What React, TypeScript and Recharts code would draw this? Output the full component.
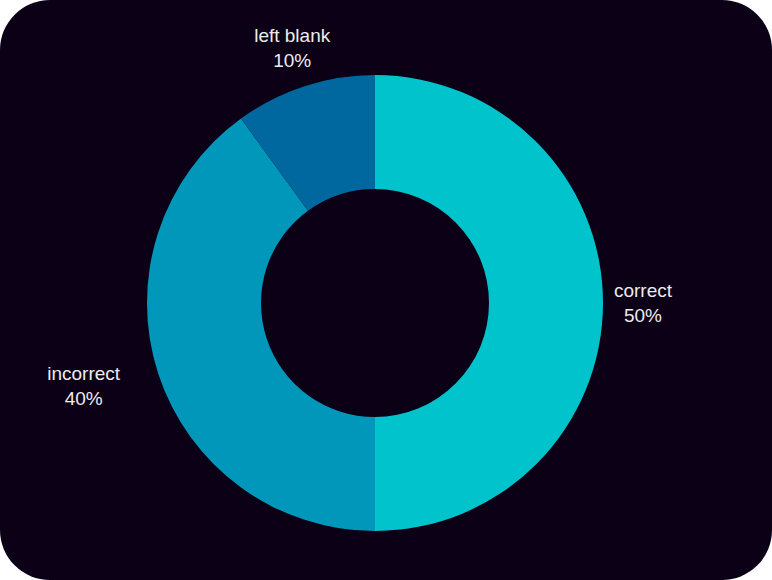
import { PieChart, Pie, Cell } from "recharts";

const categories = ["correct", "incorrect", "left blank"];
const values = [50, 40, 10];
const colors = ["#00c3cc", "#0097bb", "#00679f"];

const data = categories.map((name, i) => ({ name, value: values[i] }));

const RAD = Math.PI / 180;
const FONT = "19px 'Liberation Sans', Arial, sans-serif";

let ctx: CanvasRenderingContext2D | null = null;
function textWidth(s: string) {
  if (!ctx) ctx = document.createElement("canvas").getContext("2d");
  if (!ctx) return s.length * 9;
  ctx.font = FONT;
  return ctx.measureText(s).width;
}

// two-line label (name + percent) placed outside the ring, lines centred in the block
function renderLabel(props: any) {
  const { cx, cy, midAngle, outerRadius, name, percent } = props;
  const r = outerRadius + 40;
  const cos = Math.cos(-midAngle * RAD);
  const pct = `${Math.round(percent * 100)}%`;
  let x = cx + r * cos;
  const y = cy + r * Math.sin(-midAngle * RAD);
  if (cos < -0.5) {
    const w = Math.max(textWidth(name), textWidth(pct));
    x -= w / 2;
  }
  return (
    <text
      x={x}
      y={y}
      textAnchor="middle"
      fill="#ececec"
      fontSize={19}
      fontFamily="'Liberation Sans', Arial, sans-serif"
    >
      <tspan x={x} dy={-6}>{name}</tspan>
      <tspan x={x} dy={25}>{pct}</tspan>
    </text>
  );
}

export default function App() {
  return (
    <div
      style={{
        position: "fixed",
        left: 0,
        top: 0,
        width: 772,
        height: 580,
        background: "#0b0016",
        borderRadius: 50,
        overflow: "hidden",
      }}
    >
      <PieChart width={772} height={580}>
        <Pie
          data={data}
          dataKey="value"
          nameKey="name"
          cx={370}
          cy={298}
          innerRadius={114}
          outerRadius={228}
          startAngle={90}
          endAngle={-270}
          stroke="none"
          label={renderLabel}
          labelLine={false}
          isAnimationActive={false}
        >
          {data.map((d, i) => (
            <Cell key={d.name} fill={colors[i]} />
          ))}
        </Pie>
      </PieChart>
    </div>
  );
}
